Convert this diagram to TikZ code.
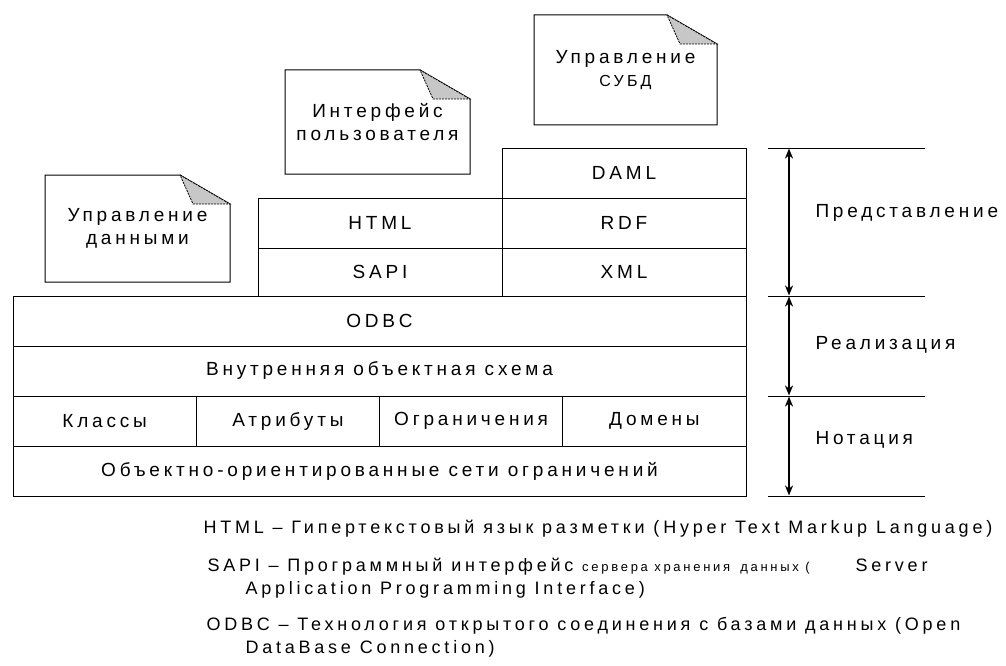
\documentclass[tikz,border=0pt]{standalone}
\usepackage{fontspec}
\usetikzlibrary{arrows.meta}
\setmainfont{Liberation Sans}
\newfontfamily\boxfont[LetterSpace=20]{Liberation Sans}
\newfontfamily\legfont[LetterSpace=21]{Liberation Sans}

% folded-corner outline around a note node
\newcommand\drawnote[1]{%
  \draw (#1.north west) -- ([xshift=-50pt]#1.north east)
        -- ([yshift=-29pt]#1.north east) -- (#1.south east)
        -- (#1.south west) -- cycle;
  \draw[fold] ([xshift=-50pt]#1.north east) -- ([yshift=-29pt]#1.north east)
        -- ([xshift=-37pt,yshift=-29pt]#1.north east) -- cycle;
}

\begin{document}
\begin{tikzpicture}[x=1pt,y=-1pt,line width=1pt,
  cell/.style={draw,anchor=north west,inner sep=0pt,outer sep=0pt,
    font=\fontsize{19}{22}\boxfont},
  note/.style={anchor=north west,inner sep=0pt,outer sep=0pt,align=center,
    font=\fontsize{19}{23}\boxfont},
  level/.style={anchor=west,inner sep=0pt,font=\fontsize{19}{22}\boxfont},
  legend/.style={anchor=base west,inner sep=0pt,font=\fontsize{18}{20}\legfont},
  span/.style={{Stealth[length=10pt,width=8pt,inset=3pt]}-{Stealth[length=10pt,width=8pt,inset=3pt]},
    line width=2.5pt,shorten <=0.5pt,shorten >=0.5pt},
  fold/.style={fill=black!22,dash pattern=on 2pt off 1pt,line width=0.8pt}]
\useasboundingbox (0,0) rectangle (1006,666);

% notes
\node[note,minimum width=185,minimum height=107] (ndata) at (45,175)
  {Управление\\данными};
\drawnote{ndata}
\node[note,minimum width=185,minimum height=104] (nui) at (285,70)
  {Интерфейс\\пользователя};
\drawnote{nui}
\node[note,minimum width=183,minimum height=110] (ndbms) at (534,15)
  {Управление\\{\fontsize{16}{18}\boxfont СУБД}};
\drawnote{ndbms}

% layered stack
\node[cell,minimum width=244,minimum height=50] (daml) at (502,148) {DAML};
\node[cell,minimum width=244,minimum height=50] (html) at (258,198) {HTML};
\node[cell,minimum width=244,minimum height=50] (rdf)  at (502,198) {RDF};
\node[cell,minimum width=244,minimum height=48] (sapi) at (258,248) {SAPI};
\node[cell,minimum width=244,minimum height=48] (xml)  at (502,248) {XML};
\node[cell,minimum width=733,minimum height=50] (odbc) at (13,296) {ODBC};
\node[cell,minimum width=733,minimum height=50] (inner) at (13,346) {Внутренняя объектная схема};
\node[cell,minimum width=183.25,minimum height=50] (cls)  at (13,396)     {Классы};
\node[cell,minimum width=183.25,minimum height=50] (attr) at (196.25,396) {Атрибуты};
\node[cell,minimum width=183.25,minimum height=50] (cons) at (379.5,396)  {Ограничения};
\node[cell,minimum width=183.25,minimum height=50] (dom)  at (562.75,396) {Домены};
\node[cell,minimum width=733,minimum height=50] (net) at (13,446) {Объектно-ориентированные сети ограничений};

% level scale
\foreach \i/\y in {0/148,1/296,2/396,3/496}{
  \coordinate (a\i) at (789,\y);
  \coordinate (l\i) at (768,\y);
  \coordinate (r\i) at (925,\y);
  \draw (l\i) -- (r\i);
}
\draw[span] (a0) -- (a1);
\draw[span] (a1) -- (a2);
\draw[span] (a2) -- (a3);
\node[level] (pres) at (815,213) {Представление};
\node[level] (impl) at (815,345) {Реализация};
\node[level] (nota) at (815,440) {Нотация};

% legend
\node[legend] (lhtml) at (203,533) {HTML – Гипертекстовый язык разметки (Hyper Text Markup Language)};
\node[legend] (lsapi) at (207,571) {SAPI – Программный интерфейс {\fontsize{13}{15}\legfont сервера хранения\hspace{10pt}данных (}\hspace{46pt}Server};
\node[legend] (lsapi2) at (245,594) {Application Programming Interface)};
\node[legend] (lodbc) at (206,630) {ODBC – Технология открытого соединения с базами данных (Open};
\node[legend] (lodbc2) at (245,653) {DataBase Connection)};
\end{tikzpicture}
\end{document}
